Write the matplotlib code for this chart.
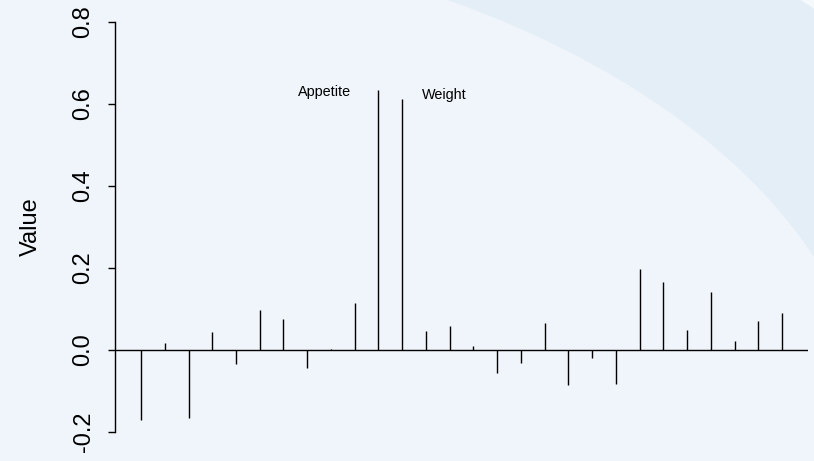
import matplotlib
matplotlib.use("Agg")
from matplotlib import pyplot as plt
import matplotlib.patches as mpatches

# loadings, one per variable (28 variables)
index = list(range(1, 29))
values = [-0.172, 0.016, -0.166, 0.043, -0.035, 0.096, 0.075, -0.045, 0.002, 0.114,
          0.634, 0.611, 0.046, 0.059, 0.010, -0.057, -0.032, 0.066, -0.086, -0.021,
          -0.084, 0.196, 0.166, 0.048, 0.141, 0.022, 0.071, 0.090]
labels = {11: "Appetite", 12: "Weight"}
y_ticks = [-0.2, 0.0, 0.2, 0.4, 0.6, 0.8]

plt.rcParams['font.family'] = ['Liberation Sans', 'DejaVu Sans']

fig = plt.figure(figsize=(8.14, 4.61), dpi=100)
fig.patch.set_facecolor('#f6f9fc')

# background swoosh (ellipses in inches from lower left)
ring = mpatches.Ellipse((0, 0.13), 17.5 * 1.255, 10.43 * 1.255, transform=fig.dpi_scale_trans,
                        facecolor='#e4eef6', edgecolor='none', zorder=-2)
inner = mpatches.Ellipse((0, 0.13), 17.5, 10.43, transform=fig.dpi_scale_trans,
                         facecolor='#eff5fa', edgecolor='none', zorder=-1)
fig.add_artist(ring)
fig.add_artist(inner)

ax = fig.add_axes([0.1418, 0.0282, 0.8504, 0.9597])
ax.set_facecolor('none')

ax.vlines(index, 0, values, color='black', lw=1.0)
ax.axhline(0, color='black', lw=1.0)

ax.set_xlim(-0.08, 29.08)
ax.set_ylim(-0.24, 0.84)

for spine in ['top', 'right', 'bottom']:
    ax.spines[spine].set_visible(False)
ax.spines['left'].set_bounds(-0.2, 0.8)
ax.spines['left'].set_linewidth(1.0)
ax.set_xticks([])
ax.set_yticks(y_ticks)
ax.set_yticklabels(['%.1f' % t for t in y_ticks], rotation=90, va='center')
ax.tick_params(axis='y', length=5, width=1.0, labelsize=17, pad=10)
ax.set_ylabel('Value', fontsize=17, labelpad=22)

ax.annotate(labels[11], xy=(11, values[10]), xytext=(-27, -2),
            textcoords='offset pixels', ha='right', va='center', fontsize=10.4)
ax.annotate(labels[12], xy=(12, values[11]), xytext=(20, 4.5),
            textcoords='offset pixels', ha='left', va='center', fontsize=10.4)

plt.savefig('out.png', dpi=100, facecolor=fig.get_facecolor())
